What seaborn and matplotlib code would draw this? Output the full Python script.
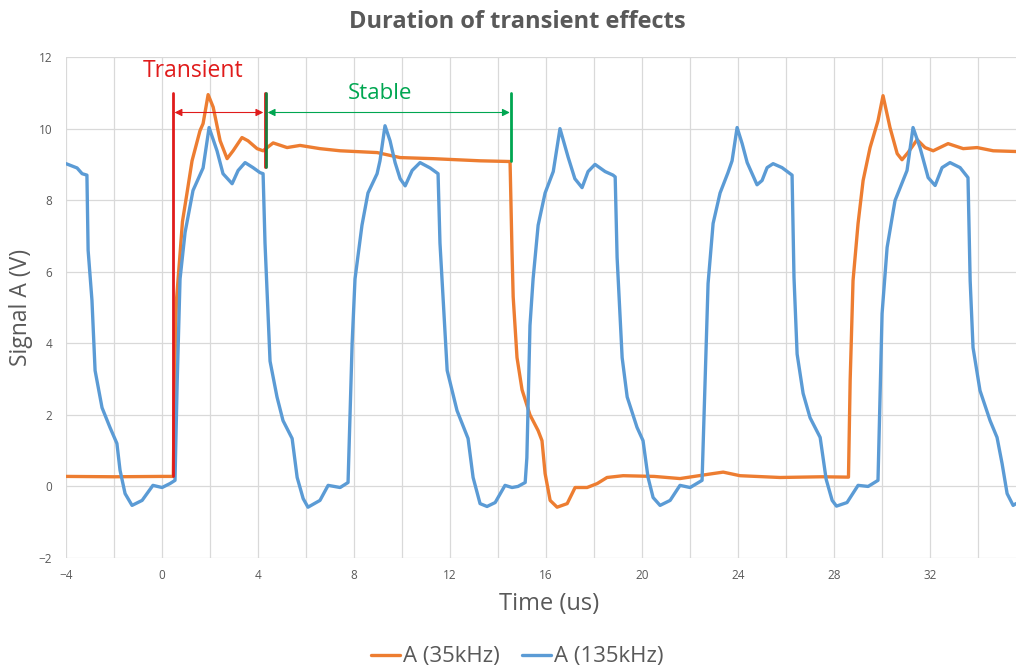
import numpy as np
import pandas as pd
import matplotlib
matplotlib.use("Agg")
import matplotlib.pyplot as plt
import seaborn as sns

# Сигнал A (35 кГц)
t_35 = [-4.0, -2.0, 0.0, 0.47, 0.52, 0.6, 0.75, 0.85, 1.04, 1.25, 1.58, 1.71, 1.92, 2.13,
        2.42, 2.71, 2.96, 3.33, 3.58, 3.96, 4.21, 4.63, 5.21, 5.75, 6.58, 7.42, 8.96, 9.92,
        11.29, 13.25, 14.5, 14.58, 14.63, 14.79, 15.0, 15.33, 15.67, 15.83, 15.96, 16.17,
        16.46, 16.88, 17.21, 17.71, 18.13, 18.54, 19.21, 20.5, 21.58, 22.96, 23.38, 24.08,
        25.75, 27.5, 28.6, 28.67, 28.79, 29.0, 29.21, 29.5, 29.83, 30.04, 30.33, 30.63,
        30.83, 31.08, 31.46, 31.79, 32.13, 32.75, 33.38, 33.96, 34.63, 35.58]
v_35 = [0.28, 0.27, 0.28, 0.28, 3.0, 5.2, 6.5, 7.4, 8.2, 9.1, 9.94, 10.14, 10.95, 10.6,
        9.66, 9.16, 9.38, 9.75, 9.66, 9.44, 9.38, 9.6, 9.47, 9.53, 9.44, 9.38, 9.33, 9.19,
        9.16, 9.1, 9.08, 6.6, 5.3, 3.6, 2.7, 2.0, 1.56, 1.28, 0.36, -0.39,
        -0.58, -0.48, -0.03, -0.03, 0.08, 0.25, 0.3, 0.28, 0.22, 0.36, 0.4, 0.3,
        0.25, 0.27, 0.26, 2.96, 5.75, 7.35, 8.55, 9.47, 10.22, 10.92, 10.03, 9.3,
        9.13, 9.33, 9.69, 9.47, 9.38, 9.58, 9.44, 9.47, 9.38, 9.36]

# Сигнал A (135 кГц)
t_135 = [-4.0, -3.54, -3.33, -3.13, -3.08, -2.92, -2.79, -2.5, -2.17, -1.88, -1.75, -1.54,
         -1.25, -0.83, -0.38, 0.0, 0.33, 0.54, 0.63, 0.75, 0.96, 1.29, 1.71, 1.96, 2.29,
         2.54, 2.92, 3.17, 3.46, 3.79, 4.08, 4.21, 4.29, 4.5, 4.79, 5.04, 5.42, 5.63, 5.88,
         6.08, 6.58, 6.92, 7.42, 7.75, 7.92, 8.04, 8.33, 8.58, 8.96, 9.08, 9.29, 9.5, 9.71,
         9.92, 10.13, 10.42, 10.75, 11.17, 11.5, 11.58, 11.88, 12.29, 12.75, 12.96, 13.25,
         13.54, 13.88, 14.29, 14.58, 14.83, 15.13, 15.2, 15.33, 15.46, 15.67, 15.96, 16.3,
         16.58, 16.92, 17.2, 17.5, 17.75, 18.04, 18.46, 18.79, 18.88, 18.96, 19.17, 19.38,
         19.79, 20.04, 20.25, 20.46, 20.75, 21.17, 21.58, 22.0, 22.5, 22.63, 22.75, 22.96,
         23.25, 23.58, 23.75, 23.96, 24.17, 24.38, 24.79, 25.0, 25.21, 25.46, 25.83, 26.25,
         26.33, 26.46, 26.71, 27.0, 27.42, 27.67, 27.92, 28.1, 28.54, 29.0, 29.42, 29.83,
         30.0, 30.21, 30.54, 31.04, 31.29, 31.58, 31.92, 32.21, 32.5, 32.83, 33.25, 33.58,
         33.67, 33.79, 34.08, 34.5, 34.79, 35.0, 35.21, 35.46, 35.58]
v_135 = [9.02, 8.9, 8.74, 8.7, 6.6, 5.2, 3.24, 2.2, 1.65, 1.2, 0.45, -0.2,
         -0.53, -0.39, 0.03, -0.03, 0.08, 0.17, 2.9, 5.8, 7.1, 8.27, 8.9, 10.03, 9.38,
         8.74, 8.46, 8.83, 9.05, 8.91, 8.77, 8.74, 6.8, 3.5, 2.5, 1.84, 1.34, 0.25, -0.34,
         -0.58, -0.39, 0.03, -0.03, 0.11, 4.0, 5.8, 7.3, 8.2, 8.74, 9.1, 10.08, 9.66, 9.05,
         8.6, 8.4, 8.83, 9.05, 8.9, 8.74, 6.8, 3.24, 2.12, 1.34, 0.25, -0.48,
         -0.56, -0.45, 0.03, -0.03, 0.0, 0.11, 0.8, 4.5, 5.8, 7.3, 8.2, 8.8,
         10.0, 9.2, 8.6, 8.35, 8.8, 9.0, 8.8, 8.7, 8.65, 6.4, 3.6, 2.5,
         1.65, 1.28, 0.25, -0.31, -0.53, -0.39, 0.03, -0.03, 0.17, 3.0, 5.67, 7.35,
         8.2, 8.77, 9.1, 10.03, 9.58, 9.05, 8.43, 8.55, 8.91, 9.02, 8.91, 8.7,
         5.84, 3.7, 2.6, 1.92, 1.37, 0.2, -0.39, -0.55, -0.45, 0.03, 0.0, 0.17,
         4.83, 6.68, 7.99, 8.83, 10.03, 9.47, 8.63, 8.41, 8.91, 9.05, 8.91, 8.63,
         5.75, 3.88, 2.68, 1.84, 1.37, 0.64, -0.2, -0.53, -0.48]

series_names = ["A (35kHz)", "A (135kHz)"]
series_colors = ["#ED7D31", "#5B9BD5"]

# Границы переходного и стабильного участков (мкс)
transient_start = 0.47
transient_end = 4.3
stable_end = 14.54

df = pd.concat([
    pd.DataFrame({"time": t_35, "signal": v_35, "series": series_names[0]}),
    pd.DataFrame({"time": t_135, "signal": v_135, "series": series_names[1]}),
], ignore_index=True)

sns.set_theme(style="white")
plt.rcParams['font.family'] = ['Open Sans', 'DejaVu Sans']

fig = plt.figure(figsize=(10.16, 6.71), dpi=100)
ax = fig.add_axes([0.065, 0.1684, 0.935, 0.7466])

sns.lineplot(data=df, x="time", y="signal", hue="series", palette=series_colors,
             hue_order=series_names, sort=False, estimator=None, linewidth=2.4, ax=ax,
             legend=False)

ax.set_xlim(-4, 35.58)
ax.set_ylim(-2, 12)
ax.set_xticks(np.arange(-4, 35, 4))
ax.set_xticks(np.arange(-2, 36, 4), minor=True)
ax.set_yticks(np.arange(-2, 13, 2))
ax.grid(True, which="both", color="#d9d9d9", linewidth=0.9)
ax.set_axisbelow(True)
for s in ax.spines.values():
    s.set_visible(False)
ax.tick_params(axis="both", which="both", length=0, colors="#595959", labelsize=8.5)
ax.tick_params(axis="x", pad=8)
ax.tick_params(axis="y", pad=10)

ax.set_xlabel("Time (us)", fontsize=17, color="#595959")
ax.set_ylabel("Signal A (V)", fontsize=16.5, color="#595959")
ax.xaxis.set_label_coords(0.508, -0.068)
ax.yaxis.set_label_coords(-0.035, 0.5)
fig.suptitle("Duration of transient effects", x=0.509, y=0.985, fontsize=17,
             fontweight="bold", color="#595959")

# Аннотации
red = "#E01B1B"
green = "#00A651"
ax.plot([transient_start, transient_start], [0.28, 11.0], color=red, lw=2)
ax.plot([transient_end - 0.03, transient_end - 0.03], [8.94, 11.0], color=red, lw=2)
ax.plot([transient_end + 0.03, transient_end + 0.03], [8.94, 11.0], color="#1E7A3C", lw=2)
ax.plot([stable_end, stable_end], [9.1, 11.0], color=green, lw=2)
ax.annotate("", xy=(transient_start + 0.05, 10.45), xytext=(transient_end - 0.08, 10.45),
            arrowprops=dict(arrowstyle="<|-|>", color=red, lw=0.8, mutation_scale=11,
                            shrinkA=0, shrinkB=0))
ax.annotate("", xy=(transient_end + 0.1, 10.45), xytext=(stable_end - 0.05, 10.45),
            arrowprops=dict(arrowstyle="<|-|>", color=green, lw=0.8, mutation_scale=11,
                            shrinkA=0, shrinkB=0))
ax.text(1.3, 11.6, "Transient", color=red, fontsize=16.5, ha="center", va="center")
ax.text(9.1, 10.98, "Stable", color=green, fontsize=16, ha="center", va="center")

handles = [plt.Line2D([], [], color=c, lw=2.4) for c in series_colors]
fig.legend(handles, series_names, loc="center", bbox_to_anchor=(0.509, 0.021), ncol=2,
           frameon=False, fontsize=16, handlelength=1.3, handletextpad=0.15,
           columnspacing=1.0, labelcolor="#595959")

plt.savefig("out.png", dpi=100)
